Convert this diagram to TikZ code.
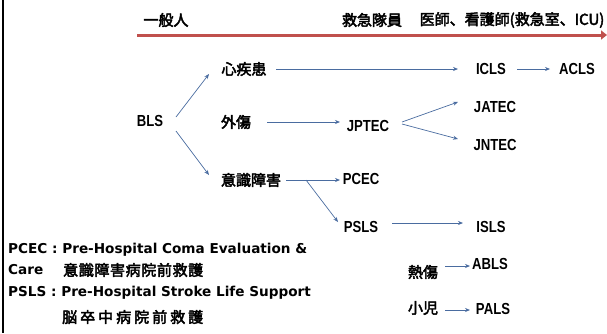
\documentclass[tikz,border=0pt]{standalone}
\usepackage{fontspec}
\usetikzlibrary{arrows.meta}
\newfontfamily\cjb{Noto Sans CJK JP}[AutoFakeBold=3]
\newfontfamily\lat{Liberation Sans}[FakeStretch=0.82]
\newfontfamily\eng{DejaVu Sans}[UprightFont=* Bold]
\definecolor{linkblue}{RGB}{74,108,160}
\definecolor{axisred}{RGB}{192,80,77}
\newcommand\heavyon{\special{pdf:literal direct 2 Tr 0.7 w}}
\newcommand\heavyoff{\special{pdf:literal direct 0 Tr}}
\tikzset{
  cj/.style={font=\cjb\bfseries\fontsize{15}{15}\selectfont, inner sep=0pt,
    execute at begin node=\heavyon, execute at end node=\heavyoff},
  lb/.style={font=\lat\bfseries\fontsize{16}{16}\selectfont, inner sep=0pt},
  en/.style={font=\eng\fontsize{13.6}{14}\selectfont, inner sep=0pt, anchor=west},
  conn/.style={draw=linkblue, line width=0.7pt, -{Stealth[length=5pt,width=4pt]}},
  axis/.style={draw=axisred, line width=3pt, -{Triangle[length=6pt,width=9pt]}},
}
\begin{document}
\begin{tikzpicture}[x=1pt,y=-1pt]
\useasboundingbox (0,0) rectangle (607,333);
% left border line
\draw[line width=2pt] (3,0) -- (3,333);
% header
\node[cj] (ippan) at (166,20) {一般人};
\node[cj] (kyuq) at (372,20) {救急隊員};
\node[cj] (ishi) at (512,20) {医師、看護師(救急室、ICU)};
\coordinate (ra) at (137,35);
\coordinate (rb) at (607,35);
\draw[axis] (ra) -- (rb);
% nodes
\node[lb] (bls) at (150,121) {BLS};
\node[cj] (shin) at (244,69) {心疾患};
\node[cj] (gaisho) at (236,122) {外傷};
\node[cj] (ishiki) at (251,180) {意識障害};
\node[lb] (icls) at (491,69) {ICLS};
\node[lb] (acls) at (577,69) {ACLS};
\node[lb] (jptec) at (368,126) {JPTEC};
\node[lb] (jatec) at (495,107) {JATEC};
\node[lb] (jntec) at (495,145) {JNTEC};
\node[lb] (pcec) at (361,179) {PCEC};
\node[lb] (psls) at (361,227) {PSLS};
\node[lb] (isls) at (491,227) {ISLS};
\node[cj] (nessho) at (423,272) {熱傷};
\node[lb] (abls) at (490,264) {ABLS};
\node[cj] (shoni) at (423,308) {小児};
\node[lb] (pals) at (493,309) {PALS};
% connectors
\draw[conn] ([shift={(26,-4)}]bls.center) -- ([shift={(-35,5)}]shin.center);
\draw[conn] ([shift={(26,10)}]bls.center) -- ([shift={(-42,-5)}]ishiki.center);
\draw[conn] ([shift={(32,0)}]shin.center) -- ([shift={(-33,0)}]icls.center);
\draw[conn] ([shift={(26,0)}]icls.center) -- ([shift={(-27,0)}]acls.center);
\draw[conn] ([shift={(31,0)}]gaisho.center) -- ([shift={(-28,-4)}]jptec.center);
\draw[conn] ([shift={(34,-4)}]jptec.center) -- ([shift={(-37,-5)}]jatec.center);
\draw[conn] ([shift={(34,-2)}]jptec.center) -- ([shift={(-37,-6)}]jntec.center);
\draw[conn] ([shift={(35,0)}]ishiki.center) -- ([shift={(-21,1)}]pcec.center);
\draw[conn] ([shift={(55,0)}]ishiki.center) -- ([shift={(-23,-5)}]psls.center);
\draw[conn] ([shift={(31,-4)}]psls.center) -- ([shift={(-28,-4)}]isls.center);
\draw[conn] ([shift={(22,-6)}]nessho.center) -- ([shift={(-20,2)}]abls.center);
\draw[conn] ([shift={(22,2)}]shoni.center) -- ([shift={(-23,1)}]pals.center);
% bottom-left legend
\node[en] (pc1) at (8,250) {PCEC : Pre-Hospital Coma Evaluation \&};
\node[en] (pc2) at (8,270) {Care};
\node[cj, anchor=west] (pc3) at (63,270) {\makebox[140pt][s]{意\hfill 識\hfill 障\hfill 害\hfill 病\hfill 院\hfill 前\hfill 救\hfill 護}};
\node[en] (ps1) at (8,293) {PSLS : Pre-Hospital Stroke Life Support};
\node[cj, anchor=west] (ps2) at (62,317) {\makebox[141pt][s]{脳\hfill 卒\hfill 中\hfill 病\hfill 院\hfill 前\hfill 救\hfill 護}};
\end{tikzpicture}
\end{document}
